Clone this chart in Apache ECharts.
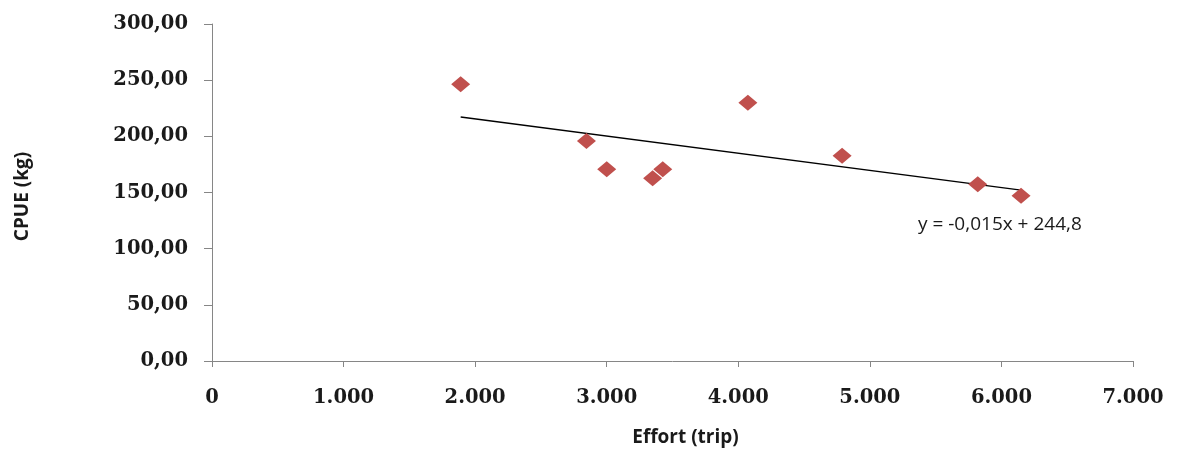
<!DOCTYPE html>
<html>
<head>
<meta charset="utf-8">
<script src="https://cdn.jsdelivr.net/npm/echarts@6/dist/echarts.min.js"></script>
<style>html,body{margin:0;padding:0;background:#fff;}#c{width:1204px;height:454px;}</style>
</head>
<body>
<div id="c"></div>
<script>
// Data
var effort = [1890, 2846, 3000, 3349, 3426, 4073, 4789, 5820, 6149];
var cpue = [246.3, 195.9, 170.7, 162.6, 170.7, 229.9, 182.8, 157.3, 147.2];
var trendX = [1890, 6149];
var trendY = [217.2, 152.2];
var equationText = 'y = -0,015x + 244,8';
var xAxisTitle = 'Effort (trip)';
var yAxisTitle = 'CPUE (kg)';

function fmtX(v) {
  if (v === 0) return '0';
  var s = String(Math.round(v));
  return s.replace(/\B(?=(\d{3})+(?!\d))/g, '.');
}
function fmtY(v) {
  return v.toFixed(2).replace('.', ',');
}

var pts = effort.map(function (x, i) { return [x, cpue[i]]; });
var trend = trendX.map(function (x, i) { return [x, trendY[i]]; });

var chart = echarts.init(document.getElementById('c'), null, {renderer: 'canvas'});
var axisColor = '#868686';
var labelFont = {fontFamily: 'DejaVu Serif', fontWeight: 'bold', fontSize: 19.5, color: '#1a1a1a'};
chart.setOption({
  backgroundColor: '#ffffff',
  animation: false,
  grid: {left: 212, right: 71, top: 24, bottom: 93, containLabel: false},
  xAxis: {
    type: 'value', min: 0, max: 7000, interval: 1000,
    axisLine: {show: true, lineStyle: {color: axisColor, width: 1}},
    axisTick: {show: true, length: 6, lineStyle: {color: axisColor}},
    splitLine: {show: false},
    axisLabel: Object.assign({margin: 27, formatter: fmtX}, labelFont),
    name: xAxisTitle, nameLocation: 'middle', nameGap: 67,
    nameTextStyle: {fontFamily: 'Open Sans', fontWeight: 'bold', fontSize: 19, color: '#1a1a1a', padding: [0, 0, 0, 26]}
  },
  yAxis: {
    type: 'value', min: 0, max: 300, interval: 50,
    axisLine: {show: true, lineStyle: {color: axisColor, width: 1}},
    axisTick: {show: true, length: 8, lineStyle: {color: axisColor}},
    splitLine: {show: false},
    axisLabel: Object.assign({margin: 24, formatter: fmtY}, labelFont),
    name: yAxisTitle, nameLocation: 'middle', nameGap: 180, nameRotate: 90,
    nameTextStyle: {fontFamily: 'Open Sans', fontWeight: 'bold', fontSize: 19, color: '#1a1a1a', padding: [0, 8, 0, 0]}
  },
  series: [
    {
      type: 'line', data: trend, symbol: 'none', silent: true,
      lineStyle: {color: '#000000', width: 1.3}, z: 1
    },
    {
      type: 'scatter', data: pts, symbol: 'diamond', symbolSize: [19, 16],
      itemStyle: {color: '#C0504D', opacity: 1}, z: 2
    }
  ],
  graphic: [{
    type: 'text', left: 918, top: 215,
    style: {text: equationText, font: '19px "Open Sans"', fill: '#1a1a1a'}
  }]
});
</script>
</body>
</html>
